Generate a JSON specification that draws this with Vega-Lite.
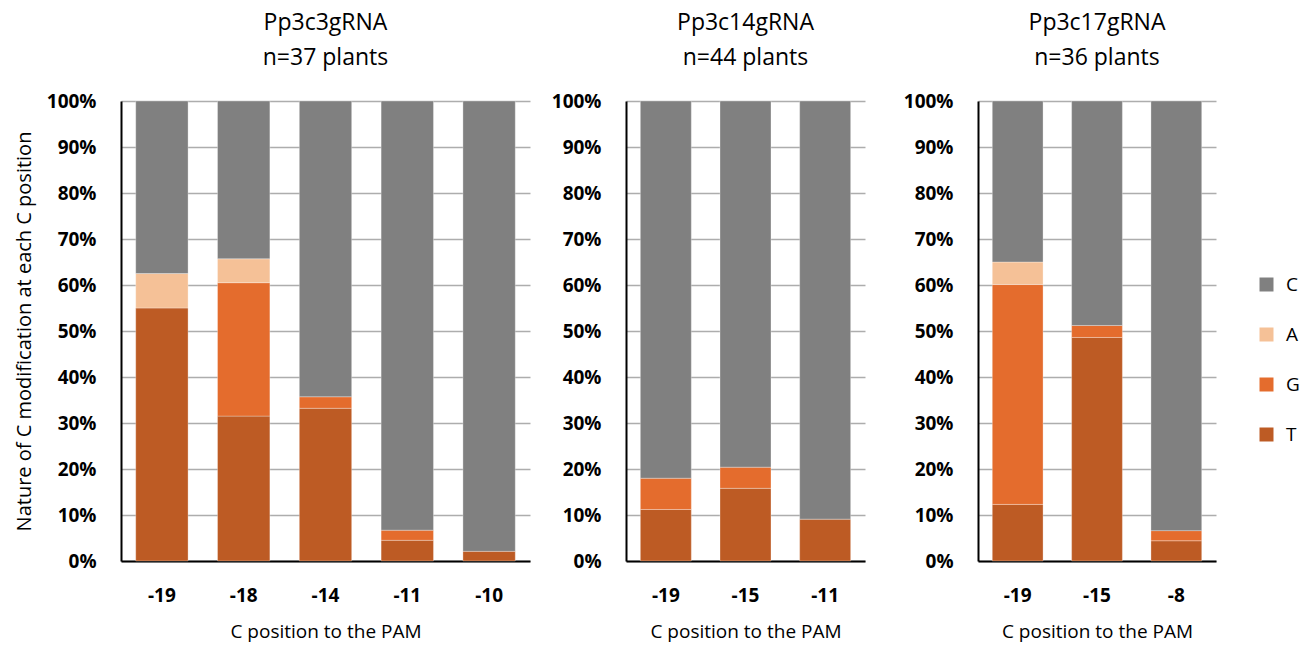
{
  "$schema": "https://vega.github.io/schema/vega-lite/v6.json",
  "padding": {"left": 14, "top": 12, "right": 5, "bottom": 5},
  "background": "white",
  "config": {
    "font": "Open Sans",
    "view": {"stroke": null},
    "axis": {"labelFont": "Open Sans", "titleFont": "Open Sans"},
    "legend": {"labelFont": "Open Sans"},
    "title": {"font": "Open Sans", "fontSize": 23, "fontWeight": "normal", "lineHeight": 35, "color": "black", "offset": 22}
  },
  "datasets": {
    "d": [
      {"gRNA": "Pp3c3gRNA", "pos": -19, "base": "T", "rank": 1, "frac": 0.55},
      {"gRNA": "Pp3c3gRNA", "pos": -19, "base": "A", "rank": 3, "frac": 0.075},
      {"gRNA": "Pp3c3gRNA", "pos": -19, "base": "C", "rank": 4, "frac": 0.375},
      {"gRNA": "Pp3c3gRNA", "pos": -18, "base": "T", "rank": 1, "frac": 0.315},
      {"gRNA": "Pp3c3gRNA", "pos": -18, "base": "G", "rank": 2, "frac": 0.29},
      {"gRNA": "Pp3c3gRNA", "pos": -18, "base": "A", "rank": 3, "frac": 0.052},
      {"gRNA": "Pp3c3gRNA", "pos": -18, "base": "C", "rank": 4, "frac": 0.343},
      {"gRNA": "Pp3c3gRNA", "pos": -14, "base": "T", "rank": 1, "frac": 0.332},
      {"gRNA": "Pp3c3gRNA", "pos": -14, "base": "G", "rank": 2, "frac": 0.025},
      {"gRNA": "Pp3c3gRNA", "pos": -14, "base": "C", "rank": 4, "frac": 0.643},
      {"gRNA": "Pp3c3gRNA", "pos": -11, "base": "T", "rank": 1, "frac": 0.045},
      {"gRNA": "Pp3c3gRNA", "pos": -11, "base": "G", "rank": 2, "frac": 0.022},
      {"gRNA": "Pp3c3gRNA", "pos": -11, "base": "C", "rank": 4, "frac": 0.933},
      {"gRNA": "Pp3c3gRNA", "pos": -10, "base": "T", "rank": 1, "frac": 0.021},
      {"gRNA": "Pp3c3gRNA", "pos": -10, "base": "C", "rank": 4, "frac": 0.979},
      {"gRNA": "Pp3c14gRNA", "pos": -19, "base": "T", "rank": 1, "frac": 0.112},
      {"gRNA": "Pp3c14gRNA", "pos": -19, "base": "G", "rank": 2, "frac": 0.068},
      {"gRNA": "Pp3c14gRNA", "pos": -19, "base": "C", "rank": 4, "frac": 0.82},
      {"gRNA": "Pp3c14gRNA", "pos": -15, "base": "T", "rank": 1, "frac": 0.158},
      {"gRNA": "Pp3c14gRNA", "pos": -15, "base": "G", "rank": 2, "frac": 0.046},
      {"gRNA": "Pp3c14gRNA", "pos": -15, "base": "C", "rank": 4, "frac": 0.796},
      {"gRNA": "Pp3c14gRNA", "pos": -11, "base": "T", "rank": 1, "frac": 0.091},
      {"gRNA": "Pp3c14gRNA", "pos": -11, "base": "C", "rank": 4, "frac": 0.909},
      {"gRNA": "Pp3c17gRNA", "pos": -19, "base": "T", "rank": 1, "frac": 0.123},
      {"gRNA": "Pp3c17gRNA", "pos": -19, "base": "G", "rank": 2, "frac": 0.478},
      {"gRNA": "Pp3c17gRNA", "pos": -19, "base": "A", "rank": 3, "frac": 0.049},
      {"gRNA": "Pp3c17gRNA", "pos": -19, "base": "C", "rank": 4, "frac": 0.35},
      {"gRNA": "Pp3c17gRNA", "pos": -15, "base": "T", "rank": 1, "frac": 0.486},
      {"gRNA": "Pp3c17gRNA", "pos": -15, "base": "G", "rank": 2, "frac": 0.026},
      {"gRNA": "Pp3c17gRNA", "pos": -15, "base": "C", "rank": 4, "frac": 0.488},
      {"gRNA": "Pp3c17gRNA", "pos": -8, "base": "T", "rank": 1, "frac": 0.044},
      {"gRNA": "Pp3c17gRNA", "pos": -8, "base": "G", "rank": 2, "frac": 0.022},
      {"gRNA": "Pp3c17gRNA", "pos": -8, "base": "C", "rank": 4, "frac": 0.934}
    ]
  },
  "data": {"name": "d"},
  "hconcat": [
    {
      "hconcat": [
        {
          "title": {"text": ["Pp3c3gRNA", "n=37 plants"]},
          "width": 409, "height": 460,
          "transform": [{"filter": "datum.gRNA === 'Pp3c3gRNA'"}],
          "mark": {"type": "bar", "stroke": "white", "strokeWidth": 0.6, "strokeOpacity": 0.5},
          "encoding": {
            "x": {"field": "pos", "type": "ordinal", "scale": {"paddingInner": 0.36, "paddingOuter": 0.18},
              "axis": {"title": "C position to the PAM", "labelAngle": 0, "labelFontWeight": "bold", "labelFontSize": 19, "labelPadding": 25, "ticks": false, "domainColor": "black", "domainWidth": 2, "titleFontSize": 19, "titleFontWeight": "normal", "titlePadding": 17, "labelColor": "black", "titleColor": "black"}},
            "y": {"field": "frac", "type": "quantitative", "stack": "zero", "scale": {"domain": [0, 1], "nice": false},
              "axis": {"title": "Nature of C modification at each C position", "values": [0, 0.1, 0.2, 0.3, 0.4, 0.5, 0.6, 0.7, 0.8, 0.9, 1], "format": ".0%", "labelFontWeight": "bold", "labelFontSize": 19, "labelPadding": 25, "ticks": false, "domainColor": "black", "domainWidth": 2, "gridColor": "#ADADAD", "gridWidth": 1.5, "titleFontSize": 20, "titleFontWeight": "normal", "titlePadding": 12, "labelColor": "black", "titleColor": "black"}},
            "color": {"field": "base", "type": "nominal", "scale": {"domain": ["C", "A", "G", "T"], "range": ["#808080", "#F5C197", "#E46C2D", "#BD5B24"]},
              "legend": {"title": null, "orient": "none", "legendX": 1136, "legendY": 174, "symbolType": "square", "symbolSize": 196, "symbolStrokeWidth": 0, "labelFontSize": 19, "labelColor": "black", "rowPadding": 30, "labelOffset": 10}},
            "order": {"field": "rank", "type": "quantitative"}
          }
        },
        {
          "title": {"text": ["Pp3c14gRNA", "n=44 plants"]},
          "width": 239, "height": 460,
          "transform": [{"filter": "datum.gRNA === 'Pp3c14gRNA'"}],
          "mark": {"type": "bar", "stroke": "white", "strokeWidth": 0.6, "strokeOpacity": 0.5},
          "encoding": {
            "x": {"field": "pos", "type": "ordinal", "scale": {"paddingInner": 0.36, "paddingOuter": 0.18},
              "axis": {"title": "C position to the PAM", "labelAngle": 0, "labelFontWeight": "bold", "labelFontSize": 19, "labelPadding": 25, "ticks": false, "domainColor": "black", "domainWidth": 2, "titleFontSize": 19, "titleFontWeight": "normal", "titlePadding": 17, "labelColor": "black", "titleColor": "black"}},
            "y": {"field": "frac", "type": "quantitative", "stack": "zero", "scale": {"domain": [0, 1], "nice": false},
              "axis": {"title": null, "values": [0, 0.1, 0.2, 0.3, 0.4, 0.5, 0.6, 0.7, 0.8, 0.9, 1], "format": ".0%", "labelFontWeight": "bold", "labelFontSize": 19, "labelPadding": 25, "ticks": false, "domainColor": "black", "domainWidth": 2, "gridColor": "#ADADAD", "gridWidth": 1.5, "labelColor": "black"}},
            "color": {"field": "base", "type": "nominal", "scale": {"domain": ["C", "A", "G", "T"], "range": ["#808080", "#F5C197", "#E46C2D", "#BD5B24"]}},
            "order": {"field": "rank", "type": "quantitative"}
          }
        }
      ],
      "spacing": 21,
      "resolve": {"scale": {"x": "independent"}}
    },
    {
      "title": {"text": ["Pp3c17gRNA", "n=36 plants"]},
      "width": 238, "height": 460,
      "transform": [{"filter": "datum.gRNA === 'Pp3c17gRNA'"}],
      "mark": {"type": "bar", "stroke": "white", "strokeWidth": 0.6, "strokeOpacity": 0.5},
      "encoding": {
        "x": {"field": "pos", "type": "ordinal", "scale": {"paddingInner": 0.36, "paddingOuter": 0.18},
          "axis": {"title": "C position to the PAM", "labelAngle": 0, "labelFontWeight": "bold", "labelFontSize": 19, "labelPadding": 25, "ticks": false, "domainColor": "black", "domainWidth": 2, "titleFontSize": 19, "titleFontWeight": "normal", "titlePadding": 17, "labelColor": "black", "titleColor": "black"}},
        "y": {"field": "frac", "type": "quantitative", "stack": "zero", "scale": {"domain": [0, 1], "nice": false},
          "axis": {"title": null, "values": [0, 0.1, 0.2, 0.3, 0.4, 0.5, 0.6, 0.7, 0.8, 0.9, 1], "format": ".0%", "labelFontWeight": "bold", "labelFontSize": 19, "labelPadding": 25, "ticks": false, "domainColor": "black", "domainWidth": 2, "gridColor": "#ADADAD", "gridWidth": 1.5, "labelColor": "black"}},
        "color": {"field": "base", "type": "nominal", "scale": {"domain": ["C", "A", "G", "T"], "range": ["#808080", "#F5C197", "#E46C2D", "#BD5B24"]}},
        "order": {"field": "rank", "type": "quantitative"}
      }
    }
  ],
  "spacing": 38,
  "resolve": {"scale": {"x": "independent"}}
}
